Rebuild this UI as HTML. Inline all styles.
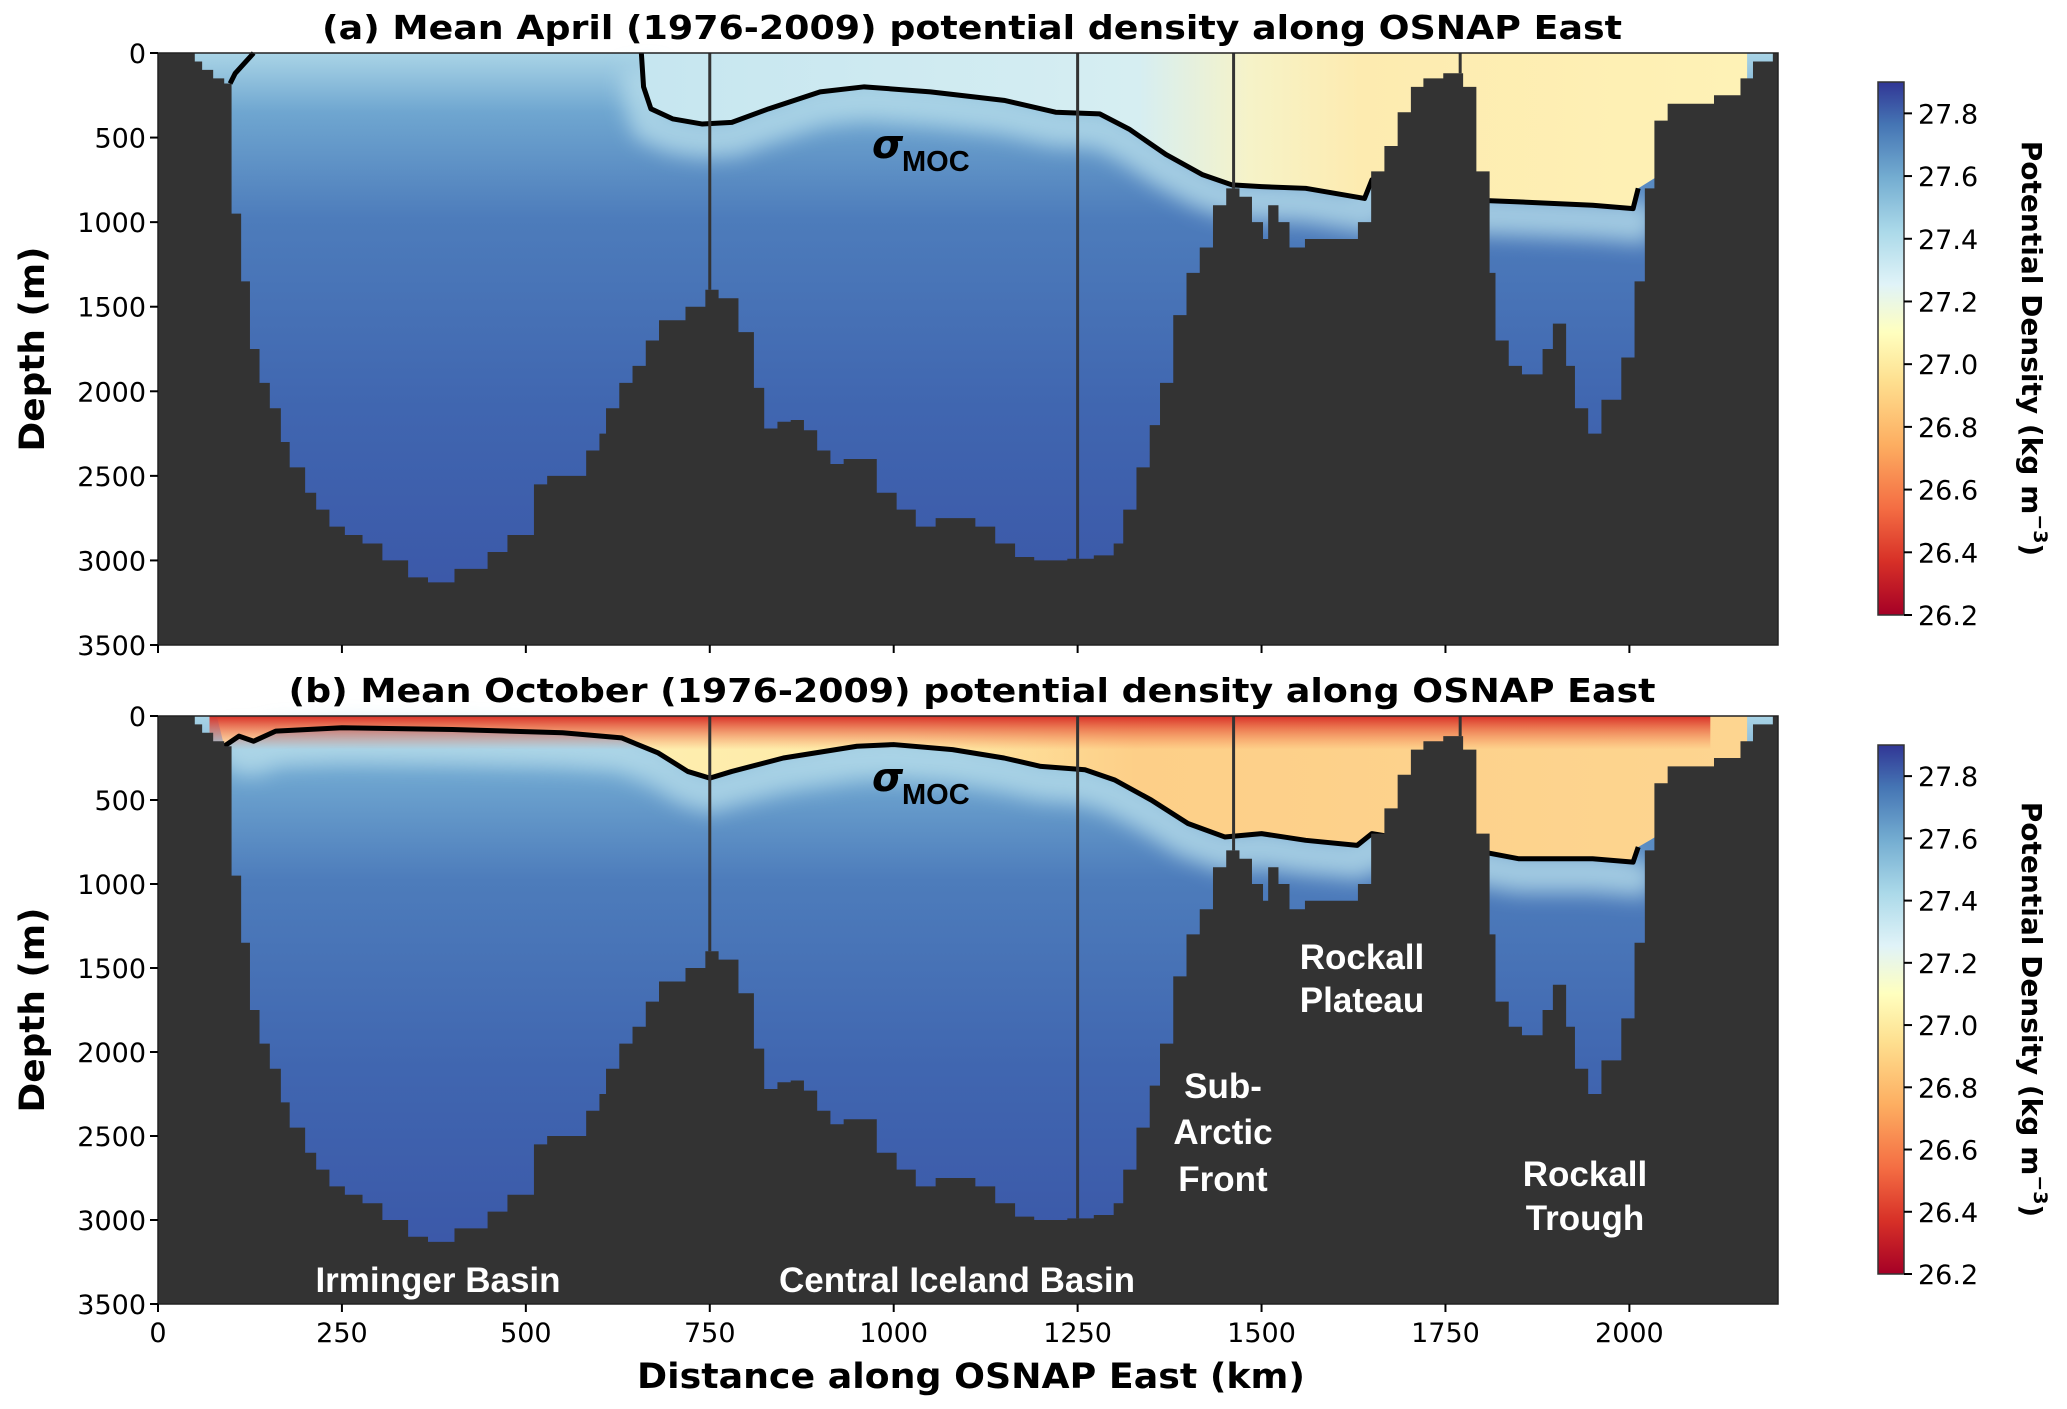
<!DOCTYPE html>
<html><head><meta charset="utf-8"><style>
html,body{margin:0;padding:0;background:#fff;}
svg{display:block;font-family:"DejaVu Sans","Liberation Sans",sans-serif;}
</style></head><body>
<svg id="fig" width="2067" height="1409" viewBox="0 0 2067 1409">
<defs>
<linearGradient id="deep" x1="0" y1="0" x2="0" y2="1">
<stop offset="0" stop-color="#a9d4e6"/><stop offset="0.1" stop-color="#6fa6d0"/><stop offset="0.28" stop-color="#4d7cbb"/><stop offset="0.6" stop-color="#4066b0"/><stop offset="1" stop-color="#3a54a6"/>
</linearGradient>
<linearGradient id="surfA" x1="0" y1="0" x2="1" y2="0">
<stop offset="0" stop-color="#c6e6f0"/><stop offset="0.45" stop-color="#d6eef2"/><stop offset="0.55" stop-color="#f6f3c8"/><stop offset="0.65" stop-color="#fdebb0"/><stop offset="1" stop-color="#fef2b6"/>
</linearGradient>
<linearGradient id="surfB" x1="0" y1="0" x2="1" y2="0">
<stop offset="0" stop-color="#fff4bd"/><stop offset="0.45" stop-color="#feeaa6"/><stop offset="0.6" stop-color="#fdcf88"/><stop offset="1" stop-color="#fdd590"/>
</linearGradient>
<linearGradient id="redtop" x1="0" y1="0" x2="0" y2="1">
<stop offset="0" stop-color="#d73027"/><stop offset="1" stop-color="#f46d43" stop-opacity="0"/>
</linearGradient>
<linearGradient id="cbar" x1="0" y1="1" x2="0" y2="0">
<stop offset="0" stop-color="#a50026"/><stop offset="0.1" stop-color="#d73027"/><stop offset="0.2" stop-color="#f46d43"/><stop offset="0.32" stop-color="#fdae61"/><stop offset="0.44" stop-color="#fee090"/><stop offset="0.53" stop-color="#ffffbf"/><stop offset="0.62" stop-color="#e0f3f8"/><stop offset="0.72" stop-color="#abd9e9"/><stop offset="0.82" stop-color="#74add1"/><stop offset="0.92" stop-color="#4575b4"/><stop offset="1" stop-color="#313695"/>
</linearGradient>
<filter id="blur" x="-5%" y="-50%" width="110%" height="200%"><feGaussianBlur stdDeviation="10"/></filter>
</defs>
</svg>
<script>
const bathyKm=[0,50,60,75,90,100,113,125,138,152,167,179,200,215,233,254,278,305,340,367,403,448,475,498,511,529,565,582,600,609,627,645,663,681,717,744,762,789,810,824,842,860,878,896,914,932,950,977,1004,1030,1057,1084,1111,1138,1165,1191,1236,1272,1299,1312,1330,1348,1362,1380,1398,1416,1434,1452,1470,1487,1502,1509,1523,1538,1559,1577,1613,1631,1649,1667,1685,1703,1720,1747,1774,1792,1810,1818,1836,1854,1882,1896,1914,1926,1944,1962,1989,2007,2021,2034,2052,2079,2115,2151,2168,2195];
const bathyDepth=[0,50,100,150,180,950,1350,1750,1950,2100,2300,2450,2600,2700,2800,2850,2900,3000,3100,3130,3050,2950,2850,2850,2550,2500,2500,2350,2250,2100,1950,1850,1700,1580,1500,1400,1450,1650,1980,2220,2180,2170,2230,2350,2430,2400,2400,2600,2700,2800,2750,2750,2800,2900,2980,3000,2990,2970,2900,2700,2450,2200,1950,1550,1300,1150,900,800,850,1000,1100,900,1000,1150,1100,1100,1100,1000,700,550,350,200,150,120,200,700,1300,1700,1850,1900,1750,1600,1850,2100,2250,2050,1800,1350,800,400,300,300,250,150,50,0];
const mocAKm=[657,660,670,700,740,780,830,900,960,1050,1150,1220,1280,1320,1370,1420,1460,1500,1560,1640,1650,1790,1850,1950,2005,2012];
const mocADepth=[0,200,330,390,420,410,330,230,200,230,280,350,360,450,600,720,780,790,800,860,750,870,880,900,920,800];
const mocBKm=[90,110,130,160,250,400,550,630,680,720,750,780,850,950,1000,1080,1150,1200,1260,1300,1350,1400,1450,1500,1560,1630,1650,1790,1850,1950,2005,2012];
const mocBDepth=[180,120,150,90,70,80,100,130,220,330,370,330,250,180,170,200,250,300,320,380,500,640,720,700,740,770,700,800,850,850,870,780];
const sectionKm=[750,1250,1462,1770];
const yTicks=[0,500,1000,1500,2000,2500,3000,3500];
const xTicks=[0,250,500,750,1000,1250,1500,1750,2000];
const cbTicks=[26.2,26.4,26.6,26.8,27.0,27.2,27.4,27.6,27.8];

const NS="http://www.w3.org/2000/svg";
const svg=document.getElementById('fig');
function el(t,a,p){const e=document.createElementNS(NS,t);for(const k in a)e.setAttribute(k,a[k]);(p||svg).appendChild(e);return e;}
const L=158,R=1778,XMAX=2202;
const X=km=>L+km*(R-L)/XMAX;
function depthAt(km){let d=0;for(let i=0;i<bathyKm.length;i++){if(bathyKm[i]<=km)d=bathyDepth[i];}return d;}

function panel(top,bot,id,mocK,mocD,isB,title){
  const Y=d=>top+d*(bot-top)/3500;
  const g=el('g',{});
  
  
  const w=el('rect',{x:L,y:top,width:R-L,height:bot-top,fill:'url(#deep)'},g);
  
  
  let m='';
  for(let i=0;i<mocK.length;i++)m+=(i?' L':'M')+X(mocK[i])+','+Y(mocD[i]);
  const tr=el('path',{d:m,fill:'none',stroke:'#b5dcea','stroke-width':40,opacity:0.8,filter:'url(#blur)',transform:'translate(0,14)'},g);
  
  
  let d='M'+X(isB?80:mocK[0])+','+top;
  for(let i=0;i<mocK.length;i++)d+=' L'+X(mocK[i])+','+Y(mocD[i]);
  d+=' L'+X(2160)+','+Y(400)+' L'+X(2160)+','+Y(0)+' Z';
  const s=el('path',{d:d,fill:isB?'url(#surfB)':'url(#surfA)'},g);
  
  
  if(isB){
    const r=el('rect',{x:X(70),y:top,width:X(2110)-X(70),height:Y(200)-top,fill:'url(#redtop)'},g);
    
    
  }
  if(!isB)m+=' M'+X(98)+','+Y(180)+' L'+X(105)+','+Y(120)+' L'+X(130)+','+Y(0);
  const ml=el('path',{d:m,fill:'none',stroke:'#000','stroke-width':5,'stroke-linejoin':'round'},g);
  
  
  let b='M'+X(0)+','+Y(3500)+' L'+X(0)+','+Y(bathyDepth[0]);
  for(let i=1;i<bathyKm.length;i++){b+=' L'+X(bathyKm[i])+','+Y(bathyDepth[i-1])+' L'+X(bathyKm[i])+','+Y(bathyDepth[i]);}
  b+=' L'+X(XMAX)+','+Y(bathyDepth[bathyDepth.length-1])+' L'+X(XMAX)+','+Y(3500)+' Z';
  const bp=el('path',{d:b,fill:'#333333'},g);
  
  
  sectionKm.forEach(k=>{
    const v=el('line',{x1:X(k),x2:X(k),y1:top,y2:Y(depthAt(k)),stroke:'#333','stroke-width':3},g);
    
    
  });
  const fr=el('rect',{x:L,y:top,width:R-L,height:bot-top,fill:'none',stroke:'#222','stroke-width':1.5},g);
  
  
  yTicks.forEach(t=>{
    el('line',{x1:L-8,x2:L,y1:Y(t),y2:Y(t),stroke:'#000','stroke-width':2},g);
    const tx=el('text',{x:L-12,y:Y(t)+10,'font-size':27,'text-anchor':'end'},g);
    tx.textContent=t;
    
    
  });
  xTicks.forEach(t=>{
    el('line',{x1:X(t),x2:X(t),y1:bot,y2:bot+8,stroke:'#000','stroke-width':2},g);
    if(isB){
      const tx=el('text',{x:X(t),y:bot+38,'font-size':27,'text-anchor':'middle'},g);
      tx.textContent=t;
      
      
    }
  });
  const tt=el('text',{x:972,y:top-14,'font-size':33,'font-weight':'bold','text-anchor':'middle',textLength:isB?1367:1300,lengthAdjust:'spacingAndGlyphs'},g);
  tt.textContent=title;
  
  
  const yl=el('text',{x:0,y:0,'font-size':35,'font-weight':'bold','text-anchor':'middle',textLength:205,lengthAdjust:'spacingAndGlyphs',transform:'translate(44,'+((top+bot)/2)+') rotate(-90)'},g);
  yl.textContent='Depth (m)';
  
  
  const sg=el('text',{x:872,y:top+(isB?75:105),'font-size':40,'font-weight':'bold','font-style':'italic'},g);
  sg.textContent='σ';
  
  
  const sub=el('text',{x:902,y:top+(isB?88:118),'font-size':29,'font-weight':'bold','font-family':'Liberation Sans'},g);
  sub.textContent='MOC';
  
  
  const ct=top+29,cb=bot-30;
  const CY=v=>cb-(v-26.2)*(cb-ct)/1.7;
  const cr=el('rect',{x:1878,y:ct,width:26,height:cb-ct,fill:'url(#cbar)',stroke:'#333','stroke-width':1.5},g);
  
  
  cbTicks.forEach(v=>{
    el('line',{x1:1904,x2:1912,y1:CY(v),y2:CY(v),stroke:'#000','stroke-width':2},g);
    const tx=el('text',{x:1918,y:CY(v)+10,'font-size':27},g);
    tx.textContent=v.toFixed(1);
    
    
  });
  const cl=el('text',{x:0,y:0,'font-size':28,'font-weight':'bold','text-anchor':'middle',transform:'translate(2022,'+((ct+cb)/2)+') rotate(90)'},g);
  cl.innerHTML='Potential Density (kg m<tspan dy="-12" font-size="19">−3</tspan><tspan dy="12">)</tspan>';
  
  
}
panel(53,645,'a',mocAKm,mocADepth,false,'(a) Mean April (1976-2009) potential density along OSNAP East');
panel(716,1304,'b',mocBKm,mocBDepth,true,'(b) Mean October (1976-2009) potential density along OSNAP East');

const labels=[['Irminger Basin',438,[1280]],['Central Iceland Basin',957,[1280]],['Rockall Plateau',1362,[957,1000]],['Sub-Arctic Front',1223,[1086,1132,1179]],['Rockall Trough',1585,[1174,1218]]];
const lines={'Rockall Plateau':['Rockall','Plateau'],'Sub-Arctic Front':['Sub-','Arctic','Front'],'Rockall Trough':['Rockall','Trough'],'Irminger Basin':['Irminger Basin'],'Central Iceland Basin':['Central Iceland Basin']};
labels.forEach(l=>{
  lines[l[0]].forEach((s,i)=>{
    const t=el('text',{x:l[1],y:l[2][i]+12,'font-size':35,'font-weight':'bold',fill:'#fff','text-anchor':'middle','font-family':'Liberation Sans'});
    t.textContent=s;
    
    
  });
});
const xl=el('text',{x:971,y:1388,'font-size':35,'font-weight':'bold','text-anchor':'middle',textLength:668,lengthAdjust:'spacingAndGlyphs'});
xl.textContent='Distance along OSNAP East (km)';


</script>
</body></html>
